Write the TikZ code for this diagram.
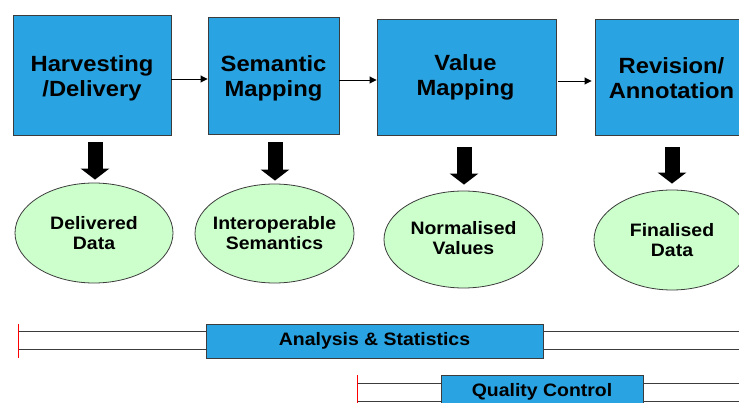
\documentclass[tikz,border=0pt]{standalone}
\usepackage{fontspec}
\setmainfont{Liberation Sans}[FakeStretch=1.08]
\usetikzlibrary{arrows.meta,shapes.geometric}
\definecolor{boxblue}{RGB}{41,163,225}
\definecolor{ellgreen}{RGB}{204,255,204}
\definecolor{edgegray}{RGB}{60,60,60}
\tikzset{
  stagebox/.style={draw=edgegray, line width=0.9pt, fill=boxblue, inner sep=0pt},
  stagetext/.style={inner sep=0pt, align=center,
    font=\fontsize{22}{25}\selectfont\bfseries},
  result/.style={ellipse, draw=edgegray, line width=0.8pt, fill=ellgreen, inner sep=0pt},
  resulttext/.style={inner sep=0pt, align=center,
    font=\fontsize{18}{20}\selectfont\bfseries},
  barbox/.style={draw=edgegray, line width=0.9pt, fill=boxblue, inner sep=0pt,
    font=\fontsize{18}{20}\selectfont\bfseries},
  flow/.style={draw=black, line width=0.9pt, -{Triangle[length=7pt,width=7pt]}},
  blockarrow/.style={draw=black, line width=15pt, -{Triangle[length=11pt,width=28pt]}},
  barline/.style={draw=edgegray, line width=0.9pt},
  tick/.style={draw=red, line width=0.9pt}
}
\begin{document}
\begin{tikzpicture}[x=1pt,y=-1pt]
\useasboundingbox[fill=white] (0,0) rectangle (739,403);
% bar lines (behind boxes)
\coordinate (t1a) at (18,324); \coordinate (t1b) at (18,358);
\coordinate (l1a) at (18,331); \coordinate (r1a) at (739,331);
\coordinate (l1b) at (18,349); \coordinate (r1b) at (739,349);
\coordinate (t2a) at (357,375); \coordinate (t2b) at (357,410);
\coordinate (l2a) at (357,383); \coordinate (r2a) at (739,383);
\coordinate (l2b) at (357,401); \coordinate (r2b) at (739,401);
\draw[barline] (l1a) -- (r1a);
\draw[barline] (l1b) -- (r1b);
\draw[barline] (l2a) -- (r2a);
\draw[barline] (l2b) -- (r2b);
\draw[tick] (t1a) -- (t1b);
\draw[tick] (t2a) -- (t2b);
\node[barbox, minimum width=337pt, minimum height=34pt] (as) at (374.5,341) {Analysis \& Statistics};
\node[barbox, minimum width=202pt, minimum height=34pt] (qc) at (542,392) {Quality Control};
% stage boxes
\node[stagebox, minimum width=158pt, minimum height=120pt] (b1) at (92,75) {};
\node[stagebox, minimum width=131pt, minimum height=117pt] (b2) at (273.5,75.5) {};
\node[stagebox, minimum width=179pt, minimum height=116pt] (b3) at (466.5,77) {};
\node[stagebox, minimum width=153pt, minimum height=116pt] (b4) at (671.5,77) {};
\node[stagetext] (b1t) at ([shift={(0,3)}]b1.center) {Harvesting\\/Delivery};
\node[stagetext] (b2t) at ([shift={(0,2.5)}]b2.center) {Semantic\\Mapping};
\node[stagetext] (b3t) at ([shift={(-1,0.5)}]b3.center) {Value\\Mapping};
\node[stagetext] (b4t) at ([shift={(0,1)}]b4.center) {Revision/\\Annotation};
% result ellipses
\node[result, minimum width=158pt, minimum height=100pt] (e1) at (94,233) {};
\node[result, minimum width=159pt, minimum height=99pt] (e2) at (274.5,233.5) {};
\node[result, minimum width=159pt, minimum height=97pt] (e3) at (463.5,239.5) {};
\node[result, minimum width=156pt, minimum height=100pt] (e4) at (672,240) {};
\node[resulttext] (e1t) at ([shift={(0,0.5)}]e1.center) {Delivered\\Data};
\node[resulttext] (e2t) at ([shift={(0,0)}]e2.center) {Interoperable\\Semantics};
\node[resulttext] (e3t) at ([shift={(0,-1)}]e3.center) {Normalised\\Values};
\node[resulttext] (e4t) at ([shift={(0,0)}]e4.center) {Finalised\\Data};
% flow arrows
\draw[flow] ([yshift=-4pt]b1.east) -- ([yshift=-4pt]b1.east -| b2.west);
\draw[flow] ([yshift=-4.5pt]b2.east) -- ([yshift=-4.5pt]b2.east -| b3.west);
\draw[flow] ([shift={(2,4)}]b3.east) -- ([shift={(-3,4)}]b3.east -| b4.west);
% block arrows
\draw[blockarrow] ([shift={(3,7)}]b1.south) -- ([shift={(1,-3)}]e1.north);
\draw[blockarrow] ([shift={(1.5,8)}]b2.south) -- ([shift={(0.5,-3)}]e2.north);
\draw[blockarrow] ([shift={(-2.5,12)}]b3.south) -- ([shift={(0.5,-6)}]e3.north);
\draw[blockarrow] ([shift={(0.5,12)}]b4.south) -- ([shift={(0,-6)}]e4.north);
\end{tikzpicture}
\end{document}
